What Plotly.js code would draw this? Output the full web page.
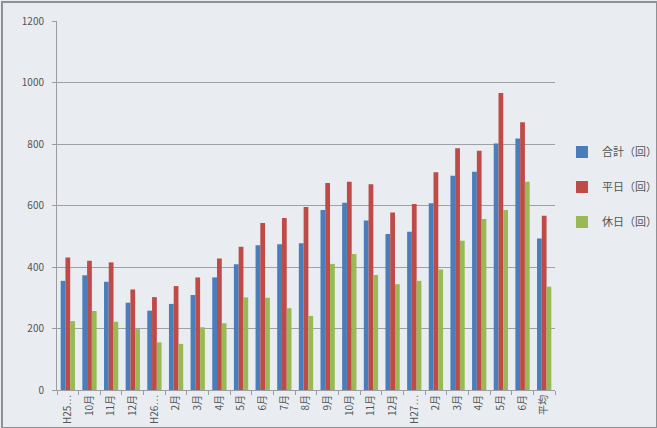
<!DOCTYPE html>
<html><head><meta charset="utf-8">
<script src="https://cdn.plot.ly/plotly-3.0.1.min.js"></script>
<style>
html,body{margin:0;padding:0;background:#e9edf1;overflow:hidden;}
#wrap{position:relative;width:657px;height:428px;overflow:hidden;}
#chart{width:720px;height:428px;}
#frame{position:absolute;left:1px;top:1px;width:653px;height:424px;border:2px solid #8e9296;pointer-events:none;}
</style></head>
<body><div id="wrap"><div id="chart"></div><div id="frame"></div></div>
<script>
const categories = ["H25…","10月","11月","12月","H26…","2月","3月","4月","5月","6月","7月","8月","9月","10月","11月","12月","H27…","2月","3月","4月","5月","6月","平均"];
const totalValues   = [355,373,352,284,258,280,309,366,409,471,474,477,585,609,551,507,515,607,697,710,802,818,493];
const weekdayValues = [431,420,415,327,302,338,366,428,466,543,559,595,673,677,669,577,605,708,786,778,966,871,567];
const holidayValues = [224,257,222,198,155,150,204,217,301,300,266,241,410,442,374,344,355,392,485,556,585,677,336];
const seriesNames = ["合計（回）","平日（回）","休日（回）"];
const yTicks = [0,200,400,600,800,1000,1200];

const xs = categories.map((c,i)=>i);
const colors = ["#4a7ebb","#be4b48","#98b954"];
const vals = [totalValues, weekdayValues, holidayValues];
const legendIds = ['legend','legend2','legend3'];
const traces = vals.map((v,k)=>({
  type:'bar', x:xs, y:v, name:seriesNames[k],
  marker:{color:colors[k]}, legend:legendIds[k]
}));

const legendBase = {xanchor:'left', yanchor:'middle', itemwidth:30,
  font:{size:11, color:'#555'}, bgcolor:'rgba(0,0,0,0)'};
const legendY = [0.645, 0.55, 0.455];

const layout = {
  width:720, height:428,
  paper_bgcolor:'#e9edf1', plot_bgcolor:'#e9edf1',
  margin:{l:57,r:165,t:21,b:38},
  barmode:'group', bargap:0.34, bargroupgap:0,
  font:{family:'"Noto Sans CJK JP", "Noto Sans", sans-serif', size:10, color:'#555'},
  showlegend:true,
  legend: Object.assign({x:1.014, y:legendY[0]}, legendBase),
  legend2: Object.assign({x:1.014, y:legendY[1]}, legendBase),
  legend3: Object.assign({x:1.014, y:legendY[2]}, legendBase),
  xaxis:{
    range:[-0.5, categories.length-0.5],
    tickmode:'array', tickvals:xs, ticktext:categories,
    tickangle:-90, ticks:'', showgrid:false, zeroline:false,
    showline:true, linecolor:'#9a9ea3', linewidth:1,
    minor:{tick0:0.5, dtick:1, ticks:'outside', ticklen:4, tickcolor:'#9a9ea3', showgrid:false},
    tickfont:{size:10, color:'#555'}
  },
  yaxis:{
    range:[0,1200], tickmode:'array', tickvals:yTicks,
    showgrid:true, gridcolor:'#9da1a5', gridwidth:1,
    zeroline:false, showline:true, linecolor:'#9a9ea3', linewidth:1,
    ticks:'outside', ticklen:4, tickcolor:'#9a9ea3',
    tickfont:{size:10, color:'#555'}, ticklabelstandoff:6
  }
};
Plotly.newPlot('chart', traces, layout, {displayModeBar:false, staticPlot:true});
</script></body></html>
